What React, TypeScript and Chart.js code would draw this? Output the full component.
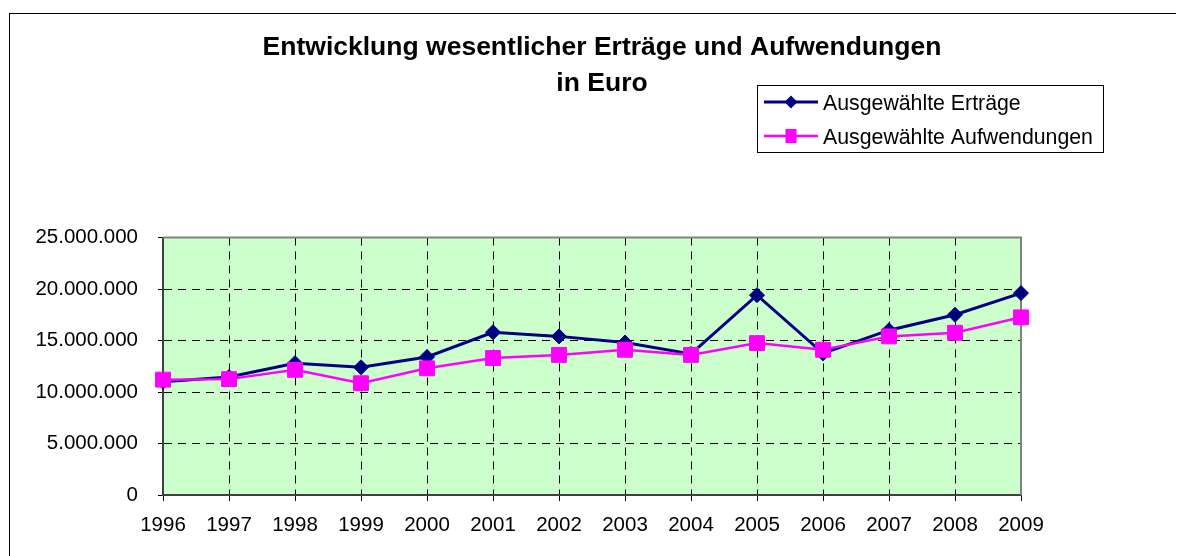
import React, { useEffect, useRef } from 'react';
import { Chart, registerables } from 'chart.js';

Chart.register(...registerables);

const years = ['1996', '1997', '1998', '1999', '2000', '2001', '2002', '2003', '2004', '2005', '2006', '2007', '2008', '2009'];
const ertraege = [11000000, 11450000, 12800000, 12400000, 13400000, 15800000, 15400000, 14800000, 13700000, 19400000, 13750000, 16000000, 17500000, 19600000];
const aufwendungen = [11200000, 11250000, 12150000, 10850000, 12300000, 13300000, 13600000, 14100000, 13600000, 14750000, 14100000, 15400000, 15750000, 17250000];
const seriesNames = ['Ausgewählte Erträge', 'Ausgewählte Aufwendungen'];
const titleLines = ['Entwicklung wesentlicher Erträge und Aufwendungen', 'in Euro'];
const yMin = 0;
const yMax = 25000000;
const yStep = 5000000;

const FONT = '"Liberation Sans", Arial, sans-serif';

const fmt = (v: number) => String(Math.round(v)).replace(/\B(?=(\d{3})+(?!\d))/g, '.');

const decor = {
  id: 'decor',
  beforeDraw(chart: any) {
    const { ctx, chartArea: a } = chart;
    ctx.save();
    ctx.fillStyle = '#CCFFCC';
    ctx.fillRect(a.left, a.top, a.right - a.left, a.bottom - a.top);
    ctx.restore();
  },
  beforeDatasetsDraw(chart: any) {
    const { ctx, chartArea: a } = chart;
    ctx.save();
    ctx.strokeStyle = '#808080';
    ctx.lineWidth = 2;
    ctx.beginPath();
    ctx.moveTo(a.left, a.top);
    ctx.lineTo(a.right, a.top);
    ctx.lineTo(a.right, a.bottom);
    ctx.stroke();
    ctx.restore();
  },
  afterDraw(chart: any) {
    const { ctx } = chart;
    ctx.save();
    // outer chart border
    ctx.strokeStyle = '#000';
    ctx.lineWidth = 1;
    ctx.strokeRect(1.5, 5.5, 3000, 3000);

    // title
    ctx.fillStyle = '#000';
    ctx.font = `bold 26.5px ${FONT}`;
    ctx.textAlign = 'center';
    ctx.textBaseline = 'alphabetic';
    ctx.fillText(titleLines[0], 594, 47);
    ctx.fillText(titleLines[1], 594, 83);

    // legend
    ctx.strokeStyle = '#000';
    ctx.lineWidth = 1;
    ctx.strokeRect(749.5, 77.5, 346, 67);
    const rows = [94, 128];
    const ds = chart.data.datasets;
    rows.forEach((y, i) => {
      const d = ds[i];
      ctx.strokeStyle = d.borderColor;
      ctx.lineWidth = d.borderWidth;
      ctx.beginPath();
      ctx.moveTo(756, y);
      ctx.lineTo(810, y);
      ctx.stroke();
      ctx.fillStyle = d.backgroundColor;
      if (d.pointStyle === 'rectRot') {
        ctx.beginPath();
        ctx.moveTo(783, y - 6.5);
        ctx.lineTo(789.5, y);
        ctx.lineTo(783, y + 6.5);
        ctx.lineTo(776.5, y);
        ctx.closePath();
        ctx.fill();
      } else {
        ctx.fillRect(777.5, y - 7, 11, 14);
      }
      ctx.fillStyle = '#000';
      ctx.font = `21.3px ${FONT}`;
      ctx.textAlign = 'left';
      ctx.textBaseline = 'alphabetic';
      ctx.fillText(d.label, 815, y + 7.5);
    });
    ctx.restore();
  },
};

export default function App() {
  const ref = useRef<HTMLCanvasElement | null>(null);
  useEffect(() => {
    if (!ref.current) return;
    const chart = new Chart(ref.current, {
      type: 'line',
      data: {
        labels: years,
        datasets: [
          {
            label: seriesNames[0],
            data: ertraege,
            borderColor: '#000080',
            backgroundColor: '#000080',
            borderWidth: 3,
            pointStyle: 'rectRot',
            pointRadius: 7.5,
            pointBorderWidth: 1,
            pointBorderColor: '#000080',
            pointBackgroundColor: '#000080',
            tension: 0,
            order: 1,
          },
          {
            label: seriesNames[1],
            data: aufwendungen,
            borderColor: '#FF00FF',
            backgroundColor: '#FF00FF',
            borderWidth: 2.5,
            pointStyle: 'rect',
            pointRadius: 10.5,
            pointBorderWidth: 1,
            pointBorderColor: '#FF00FF',
            pointBackgroundColor: '#FF00FF',
            tension: 0,
            order: 0,
          },
        ],
      } as any,
      options: {
        responsive: false,
        animation: false,
        devicePixelRatio: 1,
        layout: { padding: { top: 229.5, right: 163, left: 0, bottom: 0 } },
        plugins: {
          legend: { display: false },
          title: { display: false },
          tooltip: { enabled: false },
        },
        scales: {
          x: {
            grid: {
              color: '#000',
              lineWidth: 1,
              tickLength: 6,
              tickColor: '#000',
              tickBorderDash: [],
            } as any,
            border: { display: true, color: '#404040', width: 2, dash: [8, 6] },
            ticks: {
              font: { family: FONT, size: 20.5 },
              color: '#000',
              padding: 12,
              maxRotation: 0,
              autoSkip: false,
            },
            afterFit: (s: any) => {
              s.height = 61;
            },
          },
          y: {
            min: yMin,
            max: yMax,
            grid: {
              color: '#000',
              lineWidth: 1,
              tickLength: 5,
              tickColor: '#000',
              tickBorderDash: [],
            } as any,
            border: { display: true, color: '#404040', width: 2, dash: [8, 6] },
            ticks: {
              stepSize: yStep,
              font: { family: FONT, size: 20.5 },
              color: '#000',
              padding: 20,
              callback: (v: any) => fmt(Number(v)),
            },
            afterFit: (s: any) => {
              s.width = 155;
            },
          },
        },
      } as any,
      plugins: [decor],
    });
    return () => chart.destroy();
  }, []);
  return (
    <div style={{ width: 1176, height: 548 }}>
      <canvas ref={ref} width={1176} height={548} style={{ display: 'block' }} />
    </div>
  );
}
